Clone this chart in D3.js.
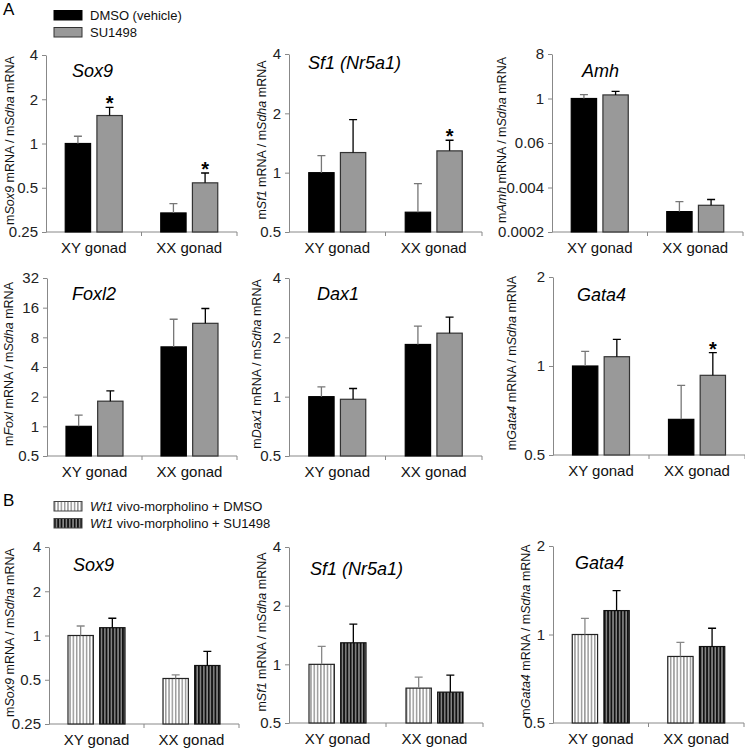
<!DOCTYPE html>
<html>
<head>
<meta charset="utf-8">
<script src="https://cdn.jsdelivr.net/npm/d3@7"></script>
<style>
body { margin: 0; background: #fff; }
svg { display: block; font-family: "Liberation Sans", Arial, sans-serif; }
</style>
</head>
<body>
<svg id="viz" width="745" height="748"></svg>
<script>
// values (log scale, relative to mSdha)
const categories = ["XY gonad", "XX gonad"];
const seriesA = ["DMSO (vehicle)", "SU1498"];
const seriesB = [" vivo-morpholino + DMSO", " vivo-morpholino + SU1498"];

const ticksSox9 = [0.25, 0.5, 1, 2, 4];
const ticksSf1 = [0.5, 1, 2, 4];
const ticksAmh = [1 / 4096, 1 / 256, 1 / 16, 1, 16];
const ticksAmhLabels = ["0.0002", "0.004", "0.06", "1", "8"];
const ticksFoxl2 = [0.5, 1, 2, 4, 8, 16, 32];
const ticksDax1 = [0.5, 1, 2, 4];
const ticksGata4 = [0.5, 1, 2];

// [series][category] : mean and top of error bar
const sox9AMean = [[1.00, 0.337], [1.55, 0.54]];
const sox9AUpper = [[1.12, 0.39], [1.76, 0.63]];
const sox9AStars = [[false, false], [true, true]];

const sf1AMean = [[1.00, 0.63], [1.265, 1.29]];
const sf1AUpper = [[1.22, 0.88], [1.86, 1.46]];
const sf1AStars = [[false, false], [false, true]];

const amhMean = [[1.00, 0.00087], [1.25, 0.00129]];
const amhUpper = [[1.28, 0.00163], [1.55, 0.00185]];

const foxl2Mean = [[1.00, 6.4], [1.80, 11.1]];
const foxl2Upper = [[1.30, 12.2], [2.29, 15.7]];

const dax1Mean = [[1.00, 1.84], [0.97, 2.10]];
const dax1Upper = [[1.12, 2.28], [1.10, 2.53]];

const gata4AMean = [[1.00, 0.66], [1.075, 0.93]];
const gata4AUpper = [[1.12, 0.86], [1.23, 1.11]];
const gata4AStars = [[false, false], [false, true]];

const sox9BMean = [[1.00, 0.51], [1.13, 0.625]];
const sox9BUpper = [[1.16, 0.54], [1.31, 0.78]];

const sf1BMean = [[1.00, 0.755], [1.29, 0.72]];
const sf1BUpper = [[1.235, 0.86], [1.61, 0.88]];

const gata4BMean = [[1.00, 0.842], [1.206, 0.91]];
const gata4BUpper = [[1.135, 0.94], [1.41, 1.05]];

const panels = [
	{title: "Sox9", gene: "Sox9", set: "A", ticks: ticksSox9, mean: sox9AMean, upper: sox9AUpper, stars: sox9AStars},
	{title: "Sf1 (Nr5a1)", gene: "Sf1", set: "A", ticks: ticksSf1, mean: sf1AMean, upper: sf1AUpper, stars: sf1AStars},
	{title: "Amh", gene: "Amh", set: "A", ticks: ticksAmh, tickLabels: ticksAmhLabels, mean: amhMean, upper: amhUpper},
	{title: "Foxl2", gene: "Foxl", set: "A", ticks: ticksFoxl2, mean: foxl2Mean, upper: foxl2Upper},
	{title: "Dax1", gene: "Dax1", set: "A", ticks: ticksDax1, mean: dax1Mean, upper: dax1Upper},
	{title: "Gata4", gene: "Gata4", set: "A", ticks: ticksGata4, mean: gata4AMean, upper: gata4AUpper, stars: gata4AStars},
	{title: "Sox9", gene: "Sox9", set: "B", ticks: ticksSox9, mean: sox9BMean, upper: sox9BUpper},
	{title: "Sf1 (Nr5a1)", gene: "Sf1", set: "B", ticks: ticksSf1, mean: sf1BMean, upper: sf1BUpper},
	{title: "Gata4", gene: "Gata4", set: "B", ticks: ticksGata4, mean: gata4BMean, upper: gata4BUpper}
];

// layout: axis origin x, top, bottom, right end; title offset; y label baseline offset
const layout = [
	{x: 46, top: 55, bottom: 232, right: 237, tx: 26, ty: 77, lx: -32.5},
	{x: 289, top: 54, bottom: 232, right: 482, tx: 19, ty: 69, lx: -23.5},
	{x: 552, top: 54, bottom: 232, right: 743, tx: 30, ty: 77, lx: -46.5},
	{x: 47, top: 278, bottom: 456, right: 237, tx: 25, ty: 300, lx: -34.5},
	{x: 289, top: 278, bottom: 456, right: 482, tx: 28, ty: 300, lx: -28.5},
	{x: 553, top: 277, bottom: 455, right: 745, tx: 24, ty: 301, lx: -37.5},
	{x: 49, top: 547, bottom: 724, right: 239, tx: 24, ty: 571, lx: -35.5},
	{x: 289, top: 547, bottom: 723, right: 483, tx: 21, ty: 575, lx: -23.5},
	{x: 553, top: 546, bottom: 723, right: 744, tx: 22, ty: 569, lx: -23.5}
];

const styles = {
	A: {fill: ["#000", "#999"], stroke: ["#000", "#333"], err: ["#777", "#000"]},
	B: {fill: ["url(#stripeLight)", "url(#stripeDark)"], stroke: ["#222", "#111"], err: ["#888", "#000"]}
};

const axisColor = "#888";
const svg = d3.select("#viz");

function addPatterns() {
	let defs = svg.append("defs");
	let light = defs.append("pattern").attr("id", "stripeLight")
		.attr("patternUnits", "userSpaceOnUse").attr("width", 3.3).attr("height", 10);
	light.append("rect").attr("width", 3.3).attr("height", 10).attr("fill", "#fff");
	light.append("rect").attr("width", 1.5).attr("height", 10).attr("fill", "#9a9a9a");

	let dark = defs.append("pattern").attr("id", "stripeDark")
		.attr("patternUnits", "userSpaceOnUse").attr("width", 3.3).attr("height", 10);
	dark.append("rect").attr("width", 3.3).attr("height", 10).attr("fill", "#8a8a8a");
	dark.append("rect").attr("width", 1.8).attr("height", 10).attr("fill", "#111");
}

function drawPanel(p, L) {
	let st = styles[p.set];
	let g = svg.append("g");

	let y = d3.scaleLog().base(2).domain(d3.extent(p.ticks)).range([L.bottom, L.top]);
	let x = d3.scaleBand().domain(categories).range([L.x, L.right]);
	let inner = d3.scaleBand().domain([0, 1]).range([-28.5, 28.5]).paddingInner(0.2);
	let fmt = d3.format("~g");

	// y axis
	let yAxis = d3.axisLeft(y)
		.tickValues(p.ticks)
		.tickFormat((d, i) => p.tickLabels ? p.tickLabels[i] : fmt(d))
		.tickSize(4)
		.tickSizeOuter(0)
		.tickPadding(4);
	let ya = g.append("g").attr("transform", `translate(${L.x},0)`).call(yAxis);
	ya.select(".domain").attr("stroke", axisColor);
	ya.selectAll(".tick line").attr("stroke", axisColor);
	ya.selectAll(".tick text").attr("fill", "#222").style("font-size", "15px")
		.style("font-family", '"Liberation Sans", Arial, sans-serif');

	// x axis
	g.append("line")
		.attr("x1", L.x).attr("x2", L.right)
		.attr("y1", L.bottom).attr("y2", L.bottom)
		.attr("stroke", axisColor);
	g.selectAll(".xtick")
		.data(categories)
		.enter()
		.append("line")
		.attr("x1", d => x(d) + x.bandwidth())
		.attr("x2", d => x(d) + x.bandwidth())
		.attr("y1", L.bottom).attr("y2", L.bottom + 4)
		.attr("stroke", axisColor);
	g.selectAll(".xlabel")
		.data(categories)
		.enter()
		.append("text")
		.attr("x", d => x(d) + x.bandwidth() / 2)
		.attr("y", L.bottom + 21)
		.attr("text-anchor", "middle")
		.style("font-size", "15px")
		.attr("fill", "#111")
		.text(d => d);

	// bars, error bars, stars
	let cells = [];
	p.mean.forEach((row, s) => row.forEach((v, c) => {
		cells.push({s: s, c: c, v: v, up: p.upper[s][c], star: p.stars ? p.stars[s][c] : false});
	}));
	let cx = d => x(categories[d.c]) + x.bandwidth() / 2 + inner(d.s) + inner.bandwidth() / 2;

	g.selectAll(".bar")
		.data(cells)
		.enter()
		.append("rect")
		.attr("x", d => cx(d) - inner.bandwidth() / 2)
		.attr("width", inner.bandwidth())
		.attr("y", d => y(d.v))
		.attr("height", d => L.bottom - y(d.v))
		.attr("fill", d => st.fill[d.s])
		.attr("stroke", d => st.stroke[d.s])
		.attr("stroke-width", 1.2);

	g.selectAll(".err")
		.data(cells)
		.enter()
		.append("path")
		.attr("d", d => `M${cx(d)},${y(d.v)}V${y(d.up)}M${cx(d) - 4},${y(d.up)}H${cx(d) + 4}`)
		.attr("stroke", d => st.err[d.s])
		.attr("stroke-width", 1.3)
		.attr("fill", "none");

	g.selectAll(".star")
		.data(cells.filter(d => d.star))
		.enter()
		.append("text")
		.attr("x", d => cx(d))
		.attr("y", d => y(d.up) + 3)
		.attr("text-anchor", "middle")
		.style("font-size", "20px")
		.style("font-weight", "bold")
		.text("*");

	// title
	g.append("text")
		.attr("x", L.x + L.tx)
		.attr("y", L.ty)
		.style("font-size", "18px")
		.style("font-style", "italic")
		.text(p.title);

	// y label
	let lab = g.append("text")
		.attr("transform", `translate(${L.x + L.lx},${(L.top + L.bottom) / 2 - 3}) rotate(-90)`)
		.attr("text-anchor", "middle")
		.style("font-size", "12.5px")
		.attr("fill", "#111");
	lab.append("tspan").text("m");
	lab.append("tspan").style("font-style", "italic").text(p.gene);
	lab.append("tspan").text(" mRNA / m");
	lab.append("tspan").style("font-style", "italic").text("Sdha");
	lab.append("tspan").text(" mRNA");
}

function drawLegend(set, names, y0, letter) {
	let st = styles[set];
	svg.append("text").attr("x", 3).attr("y", y0 - 5).style("font-size", "17px").text(letter);
	let lg = svg.append("g").attr("transform", `translate(54,${y0})`);
	names.forEach((n, i) => {
		let yy = i * 17;
		lg.append("rect")
			.attr("x", 0).attr("y", yy - 9.5)
			.attr("width", 28).attr("height", 9.5)
			.attr("fill", st.fill[i])
			.attr("stroke", set == "A" ? (i == 0 ? "#000" : "#333") : "#444")
			.attr("stroke-width", 1);
		let t = lg.append("text").attr("x", 36).attr("y", yy)
			.style("font-size", "13px").attr("fill", "#111");
		if (set == "B") t.append("tspan").style("font-style", "italic").text("Wt1");
		t.append("tspan").text(n);
	});
}

addPatterns();
panels.forEach((p, i) => drawPanel(p, layout[i]));
drawLegend("A", seriesA, 20, "A");
drawLegend("B", seriesB, 511, "B");
</script>
</body>
</html>
